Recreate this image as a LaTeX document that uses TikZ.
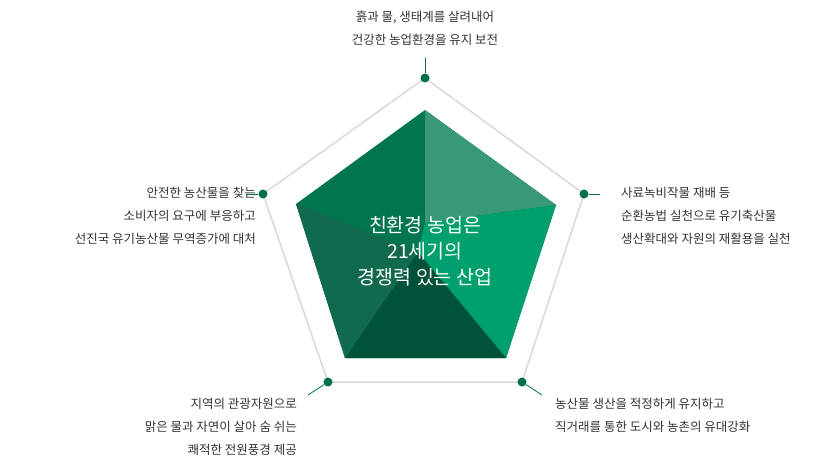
\documentclass[tikz,border=0pt]{standalone}
\usepackage{fontspec}
\setmainfont{Noto Sans CJK KR}
\begin{document}
\begin{tikzpicture}[x=1pt,y=-1pt]
\definecolor{gA}{HTML}{00754F}
\definecolor{gB}{HTML}{3A987A}
\definecolor{gC}{HTML}{00A06E}
\definecolor{gD}{HTML}{00523A}
\definecolor{gE}{HTML}{116A50}
\definecolor{dotc}{HTML}{00704A}
\tikzset{dot/.style={circle,fill=dotc,inner sep=0pt,minimum size=9pt},
 lab/.style={font=\fontsize{12.5}{23}\selectfont,text=black!80,inner sep=0pt},
 conn/.style={dotc,line width=0.8pt}}
\useasboundingbox (0,0) rectangle (835,475);
% outer pentagon
\draw[black!15,line width=1.5pt] (425,78)--(584,194)--(522,382)--(328,382)--(263,194)--cycle;
% inner pentagon
\coordinate (T) at (425,110); \coordinate (R) at (556,205); \coordinate (BR) at (506,358);
\coordinate (BL) at (345,358); \coordinate (L) at (296,204);
\coordinate (C) at (418,252);
\fill[gA] (T)--(R)--(BR)--(BL)--(L)--cycle;
\fill[gB] (T)--(R)--(425,223)--cycle;
\fill[gC] (R)--(BR)--(C)--(425,223)--cycle;
\fill[gD] (BR)--(BL)--(C)--cycle;
\fill[gE] (BL)--(L)--(C)--cycle;
\node[align=center,text=white,font=\fontsize{19.5}{26}\selectfont,inner sep=0pt] (ctr) at (425,251) {친환경 농업은\\21세기의\\경쟁력 있는 산업};
% dots
\node[dot] (d1) at (425,78) {};
\node[dot] (d2) at (584,194) {};
\node[dot] (d3) at (522,382) {};
\node[dot] (d4) at (328,382) {};
\node[dot] (d5) at (263,194) {};
\coordinate (e1) at (425,58); \coordinate (e2) at (600,194);
\coordinate (e3) at (542,395); \coordinate (e4) at (308,395); \coordinate (e5) at (246,194);
\draw[conn] (d1)--(e1); \draw[conn] (d2)--(e2); \draw[conn] (d3)--(e3);
\draw[conn] (d4)--(e4); \draw[conn] (d5)--(e5);
% labels
\node[lab,align=center,anchor=north] (t1) at (425,11) {흙과 물, 생태계를 살려내어\\건강한 농업환경을 유지 보전};
\node[lab,align=left,anchor=north west] (t2) at (621,187) {사료녹비작물 재배 등\\순환농법 실천으로 유기축산물\\생산확대와 자원의 재활용을 실천};
\node[lab,align=right,anchor=north east] (t5) at (256,187) {안전한 농산물을 찾는\\소비자의 요구에 부응하고\\선진국 유기농산물 무역증가에 대처};
\node[lab,align=right,anchor=north east] (t4) at (297,398) {지역의 관광자원으로\\맑은 물과 자연이 살아 숨 쉬는\\쾌적한 전원풍경 제공};
\node[lab,align=left,anchor=north west] (t3) at (555,398) {농산물 생산을 적정하게 유지하고\\직거래를 통한 도시와 농촌의 유대강화};
\end{tikzpicture}
\end{document}
